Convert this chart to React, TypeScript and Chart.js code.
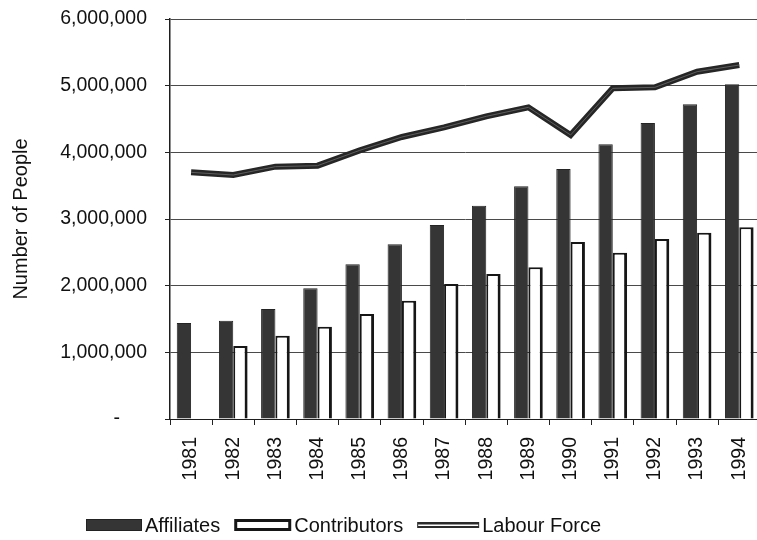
import { useEffect, useRef } from 'react';
import { Chart, registerables } from 'chart.js';

Chart.register(...registerables);

// Membership figures per year
const years = ['1981', '1982', '1983', '1984', '1985', '1986', '1987', '1988', '1989', '1990', '1991', '1992', '1993', '1994'];
const affiliates = [1440000, 1475000, 1650000, 1960000, 2320000, 2620000, 2910000, 3200000, 3490000, 3750000, 4120000, 4440000, 4720000, 5020000];
const contributors = [null, 1095000, 1250000, 1385000, 1575000, 1775000, 2025000, 2175000, 2275000, 2655000, 2495000, 2700000, 2795000, 2875000];
const labourForce = [3700000, 3660000, 3785000, 3800000, 4030000, 4230000, 4375000, 4540000, 4675000, 4260000, 4960000, 4975000, 5210000, 5310000];

const seriesNames = ['Affiliates', 'Contributors', 'Labour Force'];
const yMax = 6000000;
const yStep = 1000000;

const FONT = "'Liberation Sans', Arial, sans-serif";
const INK = '#111111';
const BAR_DARK = '#353535';

// Legend drawn under the axis labels with per-series swatches
const legendPlugin = {
  id: 'bottomLegend',
  afterDraw(chart: any) {
    const ctx = chart.ctx as CanvasRenderingContext2D;
    const cy = 525;
    let x = 86;
    ctx.save();
    ctx.font = `20px ${FONT}`;
    ctx.fillStyle = INK;
    ctx.textBaseline = 'middle';
    ctx.textAlign = 'left';

    const drawSwatch = (i: number) => {
      if (i === 0) {
        ctx.fillStyle = BAR_DARK;
        ctx.fillRect(x, cy - 6, 56, 12);
        ctx.strokeStyle = '#222';
        ctx.lineWidth = 1;
        ctx.strokeRect(x + 0.5, cy - 5.5, 55, 11);
        x += 56;
      } else if (i === 1) {
        ctx.fillStyle = '#fff';
        ctx.fillRect(x, cy - 6, 57, 12);
        ctx.strokeStyle = '#161616';
        ctx.lineWidth = 3;
        ctx.strokeRect(x + 1.5, cy - 4.5, 54, 9);
        x += 57;
      } else {
        ctx.fillStyle = '#2b2b2b';
        ctx.fillRect(x, cy - 3, 62, 6);
        ctx.fillStyle = '#ffffff';
        ctx.fillRect(x + 1, cy - 0.5, 60, 1.5);
        x += 62;
      }
    };

    seriesNames.forEach((name, i) => {
      drawSwatch(i);
      x += 3;
      ctx.fillStyle = INK;
      ctx.fillText(name, x, cy + 1);
      x += ctx.measureText(name).width + 14;
    });
    ctx.restore();
  },
};

export default function App() {
  const canvasRef = useRef<HTMLCanvasElement | null>(null);

  useEffect(() => {
    const canvas = canvasRef.current;
    if (!canvas) return;
    Chart.defaults.font.family = FONT;
    Chart.defaults.color = INK;

    const chart = new Chart(canvas, {
      type: 'bar',
      data: {
        labels: years,
        datasets: [
          {
            type: 'line',
            label: seriesNames[2],
            data: labourForce,
            borderColor: '#262626',
            borderWidth: 6,
            pointRadius: 0,
            tension: 0,
            fill: false,
            order: 1,
          } as any,
          {
            type: 'line',
            label: seriesNames[2] + ' core',
            data: labourForce,
            borderColor: '#5e5e5e',
            borderWidth: 1,
            pointRadius: 0,
            tension: 0,
            fill: false,
            order: 0,
          } as any,
          {
            label: seriesNames[0],
            data: affiliates,
            backgroundColor: BAR_DARK,
            borderColor: '#242424',
            borderWidth: 1,
            barPercentage: 1,
            categoryPercentage: 0.68,
            order: 2,
          },
          {
            label: seriesNames[1],
            data: contributors,
            backgroundColor: '#ffffff',
            borderColor: '#161616',
            borderWidth: { top: 2, left: 2, right: 3, bottom: 0 },
            barPercentage: 1,
            categoryPercentage: 0.68,
            order: 3,
          },
        ],
      },
      options: {
        responsive: false,
        animation: false,
        layout: { padding: { left: 0, top: 19, right: 9, bottom: 0 } },
        plugins: {
          legend: { display: false },
          tooltip: { enabled: false },
        },
        scales: {
          x: {
            offset: true,
            grid: {
              display: true,
              drawOnChartArea: false,
              offset: true,
              tickLength: 6,
              tickColor: '#222',
            },
            border: { color: '#1e1e1e', width: 1 },
            ticks: {
              autoSkip: false,
              maxRotation: 90,
              minRotation: 90,
              padding: 12,
              color: INK,
              font: { size: 19.5, family: FONT },
            },
            afterFit: (scale: any) => {
              scale.height = 121;
            },
          },
          y: {
            min: 0,
            max: yMax,
            grid: {
              color: '#4a4a4a',
              lineWidth: 1,
              tickLength: 5,
              tickColor: '#222',
            },
            border: { color: '#1e1e1e', width: 1.5 },
            ticks: {
              stepSize: yStep,
              padding: 18,
              color: INK,
              font: { size: 19.5, family: FONT },
              callback: (v: any) => (Number(v) === 0 ? '-     ' : Number(v).toLocaleString('en-US')),
            },
            title: {
              display: true,
              text: 'Number of People',
              color: INK,
              font: { size: 20, family: FONT },
              padding: { top: 9, bottom: 0 },
            },
            afterFit: (scale: any) => {
              scale.width = 170;
              scale.paddingTop = 0;
              scale.paddingBottom = 0;
            },
          },
        },
      },
      plugins: [legendPlugin],
    });

    return () => chart.destroy();
  }, []);

  return (
    <div style={{ position: 'absolute', left: 0, top: 0, width: 757, height: 540, overflow: 'hidden', background: '#fff' }}>
      <canvas ref={canvasRef} width={775} height={540} style={{ display: 'block' }} />
    </div>
  );
}
